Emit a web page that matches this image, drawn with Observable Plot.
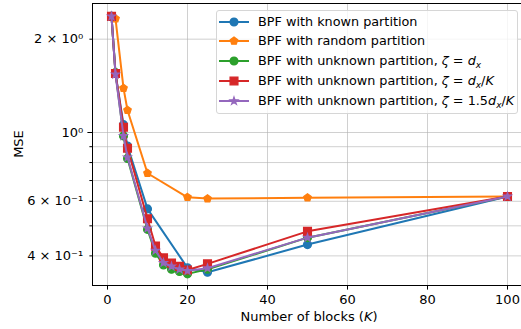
<!DOCTYPE html>
<html><head><meta charset="utf-8">
<script src="https://cdn.jsdelivr.net/npm/d3@7"></script>
<script src="https://cdn.jsdelivr.net/npm/@observablehq/plot@0.6"></script>
<style>
html,body{margin:0;padding:0;background:#fff;}
#wrap{position:relative;width:521px;height:329px;overflow:hidden;font-family:"DejaVu Sans",sans-serif;color:#000;}
#legend{position:absolute;left:216px;top:10px;width:302px;height:104px;box-sizing:border-box;border:1px solid #d6d6d6;border-radius:3px;background:rgba(255,255,255,0.8);}
.row{position:absolute;left:0;height:20px;line-height:20px;font-size:12.8px;white-space:nowrap;}
.row svg{position:absolute;left:1px;top:0;}
.row .t{position:absolute;left:41px;top:0;}
.sub{font-size:9px;position:relative;top:3px;font-style:italic;}
</style></head><body><div id="wrap"></div>
<script>
// ---- data ----
const knownK   = [1, 2, 4, 5, 10, 20, 25, 50, 100];
const knownMSE = [2.37, 1.55, 1.06, 0.905, 0.567, 0.366, 0.354, 0.435, 0.622];

const randomK   = [2, 4, 5, 10, 20, 25, 50, 100];
const randomMSE = [2.33, 1.39, 1.18, 0.739, 0.618, 0.612, 0.616, 0.622];

const unknownK = [1, 2, 4, 5, 10, 12, 14, 16, 18, 20, 25, 50, 100];
const unknownDxMSE     = [2.37, 1.56, 0.975, 0.825, 0.487, 0.408, 0.374, 0.362, 0.356, 0.350, 0.362, 0.458, 0.622];
const unknownDxKMSE    = [2.37, 1.55, 1.04, 0.89, 0.527, 0.43, 0.394, 0.379, 0.370, 0.360, 0.377, 0.48, 0.622];
const unknown15DxKMSE  = [2.37, 1.54, 0.975, 0.832, 0.491, 0.416, 0.38, 0.37, 0.362, 0.358, 0.365, 0.458, 0.622];

const xTicks = [0, 20, 40, 60, 80, 100];
const yMajorTicks = [1];
const yMajorLabels = ["10⁰"];
const yLabeledMinorTicks = [2, 0.6, 0.4];
const yLabeledMinorLabels = ["2 × 10⁰", "6 × 10⁻¹", "4 × 10⁻¹"];
const yMinorTicks = [0.9, 0.8, 0.7, 0.5];

const seriesNames = [
  "BPF with known partition",
  "BPF with random partition",
  "BPF with unknown partition, ",
  "BPF with unknown partition, ",
  "BPF with unknown partition, "
];
const colors = ["#1f77b4", "#ff7f0e", "#2ca02c", "#d62728", "#9467bd"];

const X_DOMAIN = [-3.75, 103.5];
const Y_DOMAIN = [0.321, 2.607];

// ---- symbols ----
const symSquare = {draw(ctx, size){ const r = Math.sqrt(size/Math.PI);
  ctx.moveTo(-r,-r); ctx.lineTo(r,-r); ctx.lineTo(r,r); ctx.lineTo(-r,r); ctx.closePath(); }};
const symPentagon = {draw(ctx, size){ const r = Math.sqrt(size/Math.PI);
  for (let i = 0; i < 5; i++){ const a = -Math.PI/2 + i*2*Math.PI/5;
    if (i) ctx.lineTo(r*Math.cos(a), r*Math.sin(a)); else ctx.moveTo(r*Math.cos(a), r*Math.sin(a)); }
  ctx.closePath(); }};
const symStar = {draw(ctx, size){ const r = Math.sqrt(size/Math.PI), ri = r*0.381966;
  for (let i = 0; i < 10; i++){ const a = -Math.PI/2 + i*Math.PI/5, rr = i%2 ? ri : r;
    if (i) ctx.lineTo(rr*Math.cos(a), rr*Math.sin(a)); else ctx.moveTo(rr*Math.cos(a), rr*Math.sin(a)); }
  ctx.closePath(); }};
const symbols = [d3.symbolCircle, symPentagon, d3.symbolCircle, symSquare, symStar];
const R = 3.9;

const seriesK = [knownK, randomK, unknownK, unknownK, unknownK];
const seriesM = [knownMSE, randomMSE, unknownDxMSE, unknownDxKMSE, unknown15DxKMSE];

const seriesMarks = [];
seriesK.forEach((K, s) => {
  const data = K.map((k, i) => ({k, m: seriesM[s][i]}));
  seriesMarks.push(Plot.line(data, {x: "k", y: "m", stroke: colors[s], strokeWidth: 2}));
  seriesMarks.push(Plot.dot(data, {x: "k", y: "m", fill: colors[s], stroke: colors[s], strokeWidth: 1.3, symbol: symbols[s], r: R}));
});

const gridStyle = {stroke: "#b0b0b0", strokeOpacity: 0.6, strokeWidth: 1};

const plot = Plot.plot({
  width: 521,
  height: 329,
  marginLeft: 92,
  marginRight: 0,
  marginTop: 3,
  marginBottom: 44,
  style: {fontFamily: "DejaVu Sans", fontSize: "13px", background: "white", color: "black"},
  x: {type: "linear", domain: X_DOMAIN},
  y: {type: "log", domain: Y_DOMAIN},
  marks: [
    Plot.gridX(xTicks, gridStyle),
    Plot.gridY([...yMajorTicks, ...yLabeledMinorTicks, ...yMinorTicks], gridStyle),
    ...seriesMarks,
    Plot.ruleX([X_DOMAIN[0]], {stroke: "black", strokeWidth: 1}),
    Plot.ruleY([Y_DOMAIN[0], Y_DOMAIN[1]], {stroke: "black", strokeWidth: 1}),
    Plot.axisX({ticks: xTicks, tickSize: 4.6, tickPadding: 4.5, label: null, stroke: "black", fontSize: 13, tickFormat: d => String(d)}),
    Plot.axisY({ticks: yMajorTicks, tickSize: 4.6, tickPadding: 4.7, label: null, stroke: "black", fontSize: 13,
      tickFormat: d => yMajorLabels[yMajorTicks.indexOf(d)]}),
    Plot.axisY({ticks: yLabeledMinorTicks, tickSize: 2.6, tickPadding: 6.7, label: null, stroke: "black", fontSize: 13,
      tickFormat: d => yLabeledMinorLabels[yLabeledMinorTicks.indexOf(d)]}),
    Plot.axisY({ticks: yMinorTicks, tickSize: 2.6, label: null, stroke: "black", tickFormat: () => ""})
  ]
});

const wrap = document.getElementById("wrap");
wrap.appendChild(plot);

// axis labels
const svg = d3.select(plot);
const xl = svg.append("text").attr("x", 309).attr("y", 321).attr("text-anchor", "middle")
  .attr("font-size", 13).attr("fill", "black");
xl.append("tspan").text("Number of blocks (");
xl.append("tspan").attr("font-style", "italic").text("K");
xl.append("tspan").text(")");
svg.append("text").attr("transform", "translate(18,144) rotate(-90)").attr("text-anchor", "middle")
  .attr("dy", "0.365em").attr("font-size", 13).attr("fill", "black").text("MSE");

// legend
const mathParts = [
  "",
  "",
  '<i>ζ</i> = <i>d</i><span class="sub">x</span>',
  '<i>ζ</i> = <i>d</i><span class="sub">x</span>/<i>K</i>',
  '<i>ζ</i> = 1.5<i>d</i><span class="sub">x</span>/<i>K</i>'
];
const legend = document.createElement("div");
legend.id = "legend";
wrap.appendChild(legend);
const rowCenters = [10.6, 30.4, 50.2, 70, 89.8];
seriesNames.forEach((name, s) => {
  const row = document.createElement("div");
  row.className = "row";
  row.style.top = (rowCenters[s] - 10) + "px";
  const path = d3.symbol(symbols[s], Math.PI * R * R)();
  row.innerHTML = `<svg width="32" height="20"><line x1="1" x2="31" y1="10" y2="10" stroke="${colors[s]}" stroke-width="2"/>` +
    `<path d="${path}" transform="translate(16,10)" fill="${colors[s]}" stroke="${colors[s]}" stroke-width="1.3"/></svg>` +
    `<span class="t">${name}${mathParts[s]}</span>`;
  legend.appendChild(row);
});
</script>
</body></html>
